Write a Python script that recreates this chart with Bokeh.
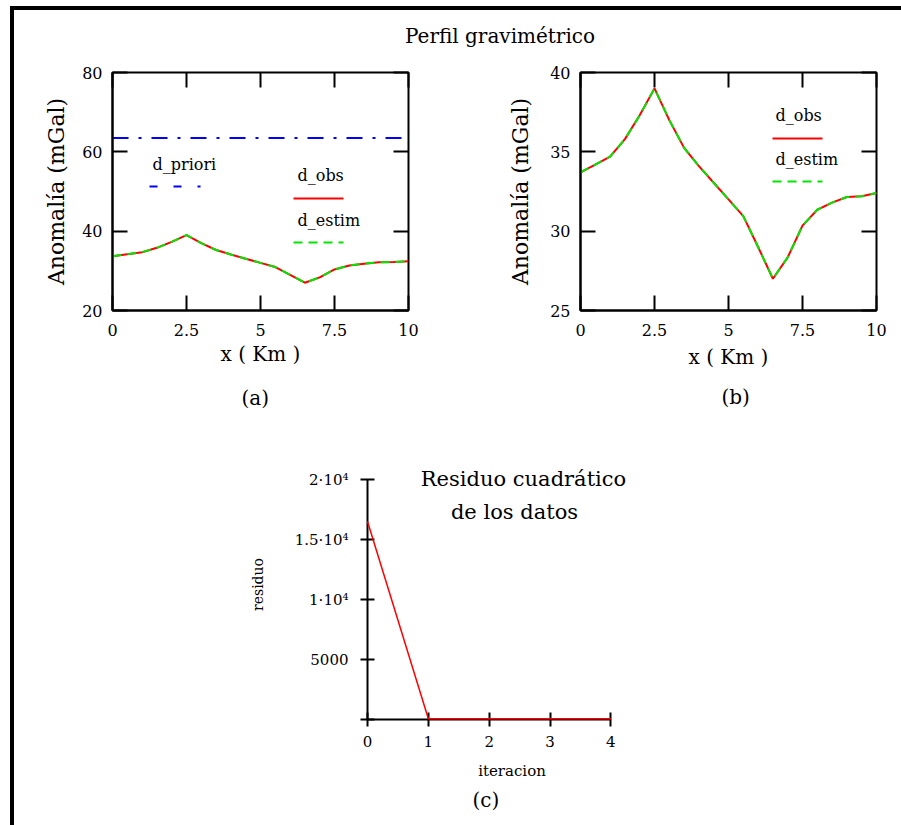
from bokeh.plotting import figure
from bokeh.models import (Range1d, LinearAxis, FixedTicker, Label, Arrow, Div, Spacer, Title)
from bokeh.layouts import column, row
from bokeh.embed import file_html
from bokeh.resources import INLINE

# ---------------- data ----------------
x_km = [0.0, 0.5, 1.0, 1.5, 2.0, 2.5, 3.0, 3.5, 4.0, 4.5, 5.0,
        5.5, 6.0, 6.5, 7.0, 7.5, 8.0, 8.5, 9.0, 9.5, 10.0]
d_obs = [33.7, 34.2, 34.7, 35.8, 37.3, 39.0, 37.0, 35.25, 34.1, 33.05, 32.0,
         30.95, 29.0, 27.0, 28.35, 30.35, 31.35, 31.8, 32.15, 32.2, 32.4]
d_estim = [33.7, 34.2, 34.7, 35.8, 37.3, 39.0, 37.0, 35.25, 34.1, 33.05, 32.0,
           30.95, 29.0, 27.0, 28.35, 30.35, 31.35, 31.8, 32.15, 32.2, 32.4]
d_priori = [63.5, 63.5, 63.5, 63.5, 63.5, 63.5, 63.5, 63.5, 63.5, 63.5, 63.5,
            63.5, 63.5, 63.5, 63.5, 63.5, 63.5, 63.5, 63.5, 63.5, 63.5]

iteracion = [0, 1, 2, 3, 4]
residuo = [16500, 60, 60, 60, 60]

x_ticks = [0, 2.5, 5, 7.5, 10]
x_tick_labels = {0: "0", 2.5: "2.5", 5: "5", 7.5: "7.5", 10: "10"}
ya_ticks = [20, 40, 60, 80]
yb_ticks = [25, 30, 35, 40]
it_ticks = [0, 1, 2, 3, 4]
res_ticks = [0, 5000, 10000, 15000, 20000]
res_tick_labels = {0: "", 5000: "5000", 10000: "1·10⁴", 15000: "1.5·10⁴", 20000: "2·10⁴"}

FONT = "DejaVu Serif"
RED = "#ff0000"
GREEN = "#00e600"
BLUE = "#0000ff"


def base_style(p):
    p.background_fill_color = "white"
    p.border_fill_color = "white"
    p.xgrid.grid_line_color = None
    p.ygrid.grid_line_color = None


def style_axis(ax, tick_font, label_font, tick_in, tick_out, standoff, label_standoff):
    ax.major_label_text_font = FONT
    ax.major_label_text_font_size = tick_font
    ax.major_label_text_color = "black"
    ax.axis_label_text_font = FONT
    ax.axis_label_text_font_size = label_font
    ax.axis_label_text_font_style = "normal"
    ax.axis_label_text_color = "black"
    ax.major_tick_in = tick_in
    ax.major_tick_out = tick_out
    ax.major_tick_line_width = 2
    ax.major_tick_line_color = "black"
    ax.minor_tick_line_color = None
    ax.axis_line_width = 2
    ax.axis_line_color = "black"
    ax.major_label_standoff = standoff
    ax.axis_label_standoff = label_standoff


def mirror_axes(p, xt, yt):
    for loc, tk in (("above", xt), ("right", yt)):
        ax = LinearAxis(ticker=FixedTicker(ticks=tk))
        ax.major_label_text_color = None
        ax.major_label_text_font_size = "0px"
        ax.major_label_standoff = 0
        ax.axis_line_color = None
        ax.major_tick_in = 15
        ax.major_tick_out = 0
        ax.major_tick_line_width = 2
        ax.major_tick_line_color = "black"
        ax.minor_tick_line_color = None
        p.add_layout(ax, loc)


def screen_label(p, text, x, y, size, align="left"):
    p.add_layout(Label(x=x, y=y, x_units="screen", y_units="screen", text=text,
                       text_font=FONT, text_font_size=size, text_color="black",
                       text_align=align, text_baseline="middle"))


def swatch(p, x0, x1, y, color, dash):
    p.add_layout(Arrow(end=None, x_start=x0, y_start=y, x_end=x1, y_end=y,
                       start_units="screen", end_units="screen",
                       line_color=color, line_width=2, line_dash=dash))


def caption(p, text, offset, standoff):
    p.add_layout(Title(text=text, align="left", offset=offset, standoff=standoff,
                       text_font=FONT, text_font_size="20px", text_font_style="normal",
                       text_color="black"), "below")


def profile_fig(width, yr, yticks, mb, ylab_standoff, xlab_standoff):
    p = figure(width=width, height=390, x_range=Range1d(0, 10), y_range=Range1d(*yr),
               output_backend="svg", toolbar_location=None,
               min_border_left=mb[0], min_border_right=mb[1],
               min_border_top=mb[2], min_border_bottom=mb[3])
    base_style(p)
    p.outline_line_color = "black"
    p.outline_line_width = 2
    p.xaxis.ticker = FixedTicker(ticks=x_ticks)
    p.xaxis.major_label_overrides = x_tick_labels
    p.yaxis.ticker = FixedTicker(ticks=yticks)
    p.xaxis.axis_label = "x ( Km )"
    p.yaxis.axis_label = "Anomalía (mGal)"
    style_axis(p.xaxis[0], "16px", "20px", 15, 0, 13, xlab_standoff)
    style_axis(p.yaxis[0], "16px", "22px", 15, 0, 10, ylab_standoff)
    mirror_axes(p, x_ticks, yticks)
    return p


# ---------------- (a) ----------------
pa = profile_fig(446, (20, 80), ya_ticks, (98, 52, 20, 130), 10, 3)
pa.line(x_km, d_priori, line_color=BLUE, line_width=2, line_dash="16 10 3 10")
pa.line(x_km, d_obs, line_color=RED, line_width=2)
pa.line(x_km, d_estim, line_color=GREEN, line_width=2, line_dash="9 6")
screen_label(pa, "d_priori", 40, 146, "16px")
swatch(pa, 37, 88, 124, BLUE, "8 16")
screen_label(pa, "d_obs", 185, 135, "16px")
swatch(pa, 181, 231, 112, RED, "solid")
screen_label(pa, "d_estim", 185, 90, "16px")
swatch(pa, 181, 231, 68, GREEN, "9 6")
caption(pa, "(a)", 129, 30)

# ---------------- (b) ----------------
pb = profile_fig(441, (25, 40), yb_ticks, (120, 25, 22, 128), 14, 6)
pb.line(x_km, d_obs, line_color=RED, line_width=2)
pb.line(x_km, d_estim, line_color=GREEN, line_width=2, line_dash="9 6")
screen_label(pb, "d_obs", 195, 195, "16px")
swatch(pb, 192, 242, 172, RED, "solid")
screen_label(pb, "d_estim", 195, 151, "16px")
swatch(pb, 192, 242, 129, GREEN, "9 6")
caption(pb, "(b)", 141, 22)

# ---------------- (c) ----------------
# frame is a little larger than the axes so the inset title fits; axes are bounded
pc = figure(width=476, height=385, x_range=Range1d(0, 4.75), y_range=Range1d(0, 22500),
            output_backend="svg", toolbar_location=None,
            min_border_left=143, min_border_right=44, min_border_top=9, min_border_bottom=106)
base_style(pc)
pc.outline_line_color = None
pc.xaxis.ticker = FixedTicker(ticks=it_ticks)
pc.yaxis.ticker = FixedTicker(ticks=res_ticks)
pc.xaxis.bounds = (0, 4)
pc.yaxis.bounds = (0, 20000)
pc.yaxis.major_label_overrides = res_tick_labels
pc.xaxis.axis_label = "iteracion"
pc.yaxis.axis_label = "residuo"
style_axis(pc.xaxis[0], "15px", "15px", 7, 7, 9, 12)
style_axis(pc.yaxis[0], "15px", "14px", 7, 7, 12, 26)
pc.line(iteracion, residuo, line_color=RED, line_width=1.5, level="overlay")
screen_label(pc, "Residuo cuadrático", 156, 241, "21px", "center")
screen_label(pc, "de los datos", 147, 208, "21px", "center")
caption(pc, "(c)", 105, 6)

# ---------------- page layout ----------------
title = Div(text=("<div style='padding-left:391px;padding-top:14px;font-family:\"DejaVu Serif\";"
                  "font-size:20px;line-height:normal;white-space:nowrap;color:black'>"
                  "Perfil gravimétrico</div>"),
            width=887, height=40, margin=0)

content = column(title, row(pa, pb), row(Spacer(width=210, height=385), pc))

page = column(
    Spacer(width=901, height=6),
    row(Spacer(width=10, height=4),
        Div(text="", width=891, height=4, margin=0, styles={"background-color": "black"})),
    row(Spacer(width=10, height=815),
        Div(text="", width=4, height=815, margin=0, styles={"background-color": "black"}),
        content),
)

open("out.html", "w").write(file_html(page, INLINE))
